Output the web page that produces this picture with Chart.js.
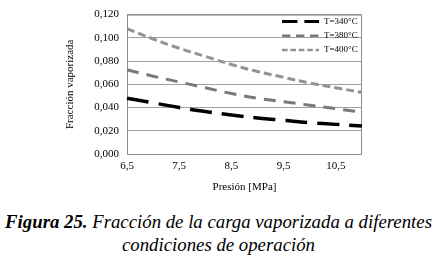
<!DOCTYPE html>
<html>
<head>
<meta charset="utf-8">
<script src="https://cdn.jsdelivr.net/npm/chart.js@4/dist/chart.umd.min.js"></script>
<style>
    body { margin: 0; background: #fff; width: 437px; height: 260px; overflow: hidden; }
    #wrap { position: relative; width: 437px; height: 200px; }
    #caption {
        font-family: "Liberation Serif", Tinos, "DejaVu Serif", serif;
        font-style: italic;
        font-size: 18.8px;
        line-height: 23px;
        text-align: center;
        margin-top: 10px;
        white-space: nowrap;
        color: #000;
    }
    #caption b { font-weight: bold; }
</style>
</head>
<body>
<div id="wrap"><canvas id="chart"></canvas></div>
<div id="caption"><b>Figura 25.</b> Fracción de la carga vaporizada a diferentes<br>condiciones de operación</div>
<script>
// Presión [MPa]
const pressures = [6.5, 7.0, 7.5, 8.0, 8.5, 9.0, 9.5, 10.0, 10.5, 11.0];

// Fracción vaporizada por temperatura
const t340 = [0.048, 0.044, 0.040, 0.0365, 0.0335, 0.031, 0.029, 0.027, 0.0255, 0.024];
const t380 = [0.0725, 0.067, 0.062, 0.057, 0.052, 0.048, 0.045, 0.042, 0.039, 0.036];
const t400 = [0.108, 0.099, 0.091, 0.084, 0.077, 0.071, 0.066, 0.061, 0.057, 0.053];

const seriesLabels = ['T=340°C', 'T=380°C', 'T=400°C'];
const yTicks = [0, 0.02, 0.04, 0.06, 0.08, 0.10, 0.12];

const serif = '"Liberation Serif", Tinos, "DejaVu Serif", serif';

function comma(v, digits) {
    return v.toFixed(digits).replace('.', ',');
}

// legend drawn inside the plot, top right, without a box
const legendInside = {
    id: 'legendInside',
    afterDraw(chart) {
        const ctx = chart.ctx;
        const area = chart.chartArea;
        chart.data.datasets.forEach((ds, i) => {
            const y = area.top + 7 + i * 14.2;
            const x0 = area.right - 80;
            const x1 = area.right - 43;
            ctx.save();
            ctx.strokeStyle = ds.borderColor;
            ctx.lineWidth = ds.borderWidth - 0.5;
            ctx.setLineDash(ds.borderDash.map(d => d * 0.7));
            ctx.beginPath();
            ctx.moveTo(x0, y);
            ctx.lineTo(x1, y);
            ctx.stroke();
            ctx.setLineDash([]);
            ctx.fillStyle = '#000';
            ctx.font = '9px ' + serif;
            ctx.textBaseline = 'middle';
            ctx.fillText(ds.label, x1 + 5, y);
            ctx.restore();
        });
    }
};

// gray frame round the plot area
const plotFrame = {
    id: 'plotFrame',
    beforeDatasetsDraw(chart) {
        const ctx = chart.ctx;
        const a = chart.chartArea;
        ctx.save();
        ctx.strokeStyle = '#8c8c8c';
        ctx.lineWidth = 1;
        ctx.strokeRect(a.left + 0.5, a.top + 0.5, a.right - a.left - 1, a.bottom - a.top);
        ctx.restore();
    }
};

new Chart(document.getElementById('chart'), {
    type: 'line',
    data: {
        labels: pressures,
        datasets: [
            {
                label: seriesLabels[0],
                data: t340,
                borderColor: '#000000',
                borderWidth: 3.5,
                borderDash: [22, 10]
            },
            {
                label: seriesLabels[1],
                data: t380,
                borderColor: '#7a7a7a',
                borderWidth: 3,
                borderDash: [12, 8]
            },
            {
                label: seriesLabels[2],
                data: t400,
                borderColor: '#939393',
                borderWidth: 3,
                borderDash: [8, 4]
            }
        ]
    },
    options: {
        responsive: true,
        maintainAspectRatio: false,
        animation: false,
        layout: { padding: { left: 62, right: 75, top: 8, bottom: 4 } },
        elements: {
            point: { radius: 0 },
            line: { tension: 0.4, fill: false, borderCapStyle: 'butt' }
        },
        plugins: {
            legend: { display: false },
            tooltip: { enabled: false }
        },
        scales: {
            x: {
                type: 'category',
                offset: false,
                grid: { display: false, drawTicks: false },
                border: { display: false },
                afterFit: function (scale) { scale.height = 42; },
                ticks: {
                    autoSkip: false,
                    maxRotation: 0,
                    padding: 6,
                    color: '#000',
                    font: { family: serif, size: 11 },
                    callback: function (value, index) {
                        return index % 2 === 0 ? comma(pressures[index], 1) : '';
                    }
                },
                title: {
                    display: true,
                    text: 'Presión [MPa]',
                    color: '#000',
                    font: { family: serif, size: 11 },
                    padding: { top: 0, bottom: 2 }
                }
            },
            y: {
                min: 0,
                max: 0.12,
                grid: { color: '#a0a0a0', drawTicks: false },
                border: { display: false },
                afterFit: function (scale) { scale.width = 65; },
                afterBuildTicks: function (scale) {
                    scale.ticks = yTicks.map(v => ({ value: v }));
                },
                ticks: {
                    padding: 8,
                    color: '#000',
                    font: { family: serif, size: 11 },
                    callback: function (value) { return comma(value, 3); }
                },
                title: {
                    display: true,
                    text: 'Fracción vaporizada',
                    color: '#000',
                    font: { family: serif, size: 11 },
                    padding: { top: 2, bottom: 0 }
                }
            }
        }
    },
    plugins: [plotFrame, legendInside]
});
</script>
</body>
</html>
